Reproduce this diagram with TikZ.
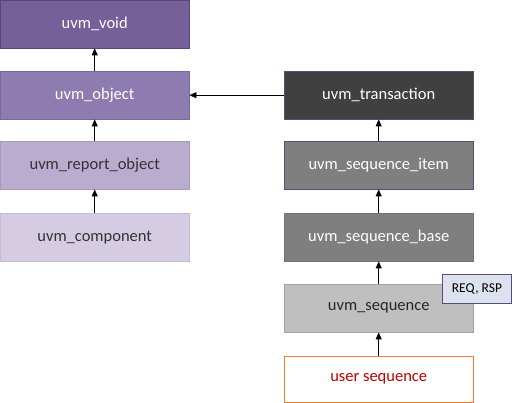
\documentclass[tikz,border=0pt]{standalone}
\usepackage{fontspec}
\setmainfont{Carlito}
\usetikzlibrary{arrows.meta}
\definecolor{cvoid}{HTML}{76609A}
\definecolor{cvoidb}{HTML}{5A4678}
\definecolor{cobj}{HTML}{8E7BB0}
\definecolor{crep}{HTML}{BAACCF}
\definecolor{ccomp}{HTML}{D5CCE3}
\definecolor{ctrans}{HTML}{404040}
\definecolor{citem}{HTML}{7F7F7F}
\definecolor{cseq}{HTML}{BFBFBF}
\definecolor{corange}{HTML}{ED7D31}
\definecolor{cred}{HTML}{C00000}
\definecolor{creq}{HTML}{DCE3EE}
\definecolor{creqb}{HTML}{5F497A}
\tikzset{
  cls/.style={minimum width=189pt, minimum height=48pt, inner sep=0pt, font=\fontsize{16.5}{18}\selectfont, anchor=north west},
  inh/.style={-{Triangle[length=7pt,width=6pt]}, line width=0.8pt, black},
}
\begin{document}
\begin{tikzpicture}[x=1pt,y=-1pt]
\useasboundingbox (0,0) rectangle (512,403);
\fill[white] (0,0) rectangle (512,403);
\node[cls, fill=cvoid, draw=cvoidb, text=white] (void) at (0,0) {uvm\_void};
\node[cls, fill=cobj, draw=cobj!85!black, text=white] (obj) at (0,71) {uvm\_object};
\node[cls, fill=crep, draw=crep!90!black, text=black!80] (rep) at (0,141) {uvm\_report\_object};
\node[cls, fill=ccomp, draw=ccomp!92!black, text=black!80] (comp) at (0,213) {uvm\_component};
\node[cls, fill=ctrans, draw=creqb, text=white] (trans) at (284,71) {uvm\_transaction};
\node[cls, fill=citem, draw=creqb, text=white] (item) at (284,141) {uvm\_sequence\_item};
\node[cls, fill=citem, draw=citem!90!black, text=white] (base) at (284,213) {uvm\_sequence\_base};
\node[cls, fill=cseq, draw=cseq!85!black, text=black!85] (seq) at (284,284) {uvm\_sequence};
\node[cls, fill=white, draw=corange, text=cred, minimum height=46pt] (user) at (284,356) {user sequence};
\node[fill=creq, draw=creqb, line width=0.8pt, minimum width=69pt, minimum height=29pt, inner sep=0pt, anchor=north west, font=\fontsize{13.5}{15}\selectfont] (req) at (442,274) {REQ, RSP};
\draw[inh] (obj) -- (void);
\draw[inh] (rep) -- (obj);
\draw[inh] (comp) -- (rep);
\draw[inh] (trans) -- (obj);
\draw[inh] (item) -- (trans);
\draw[inh] (base) -- (item);
\draw[inh] (seq) -- (base);
\draw[inh] (user) -- (seq);
\end{tikzpicture}
\end{document}
